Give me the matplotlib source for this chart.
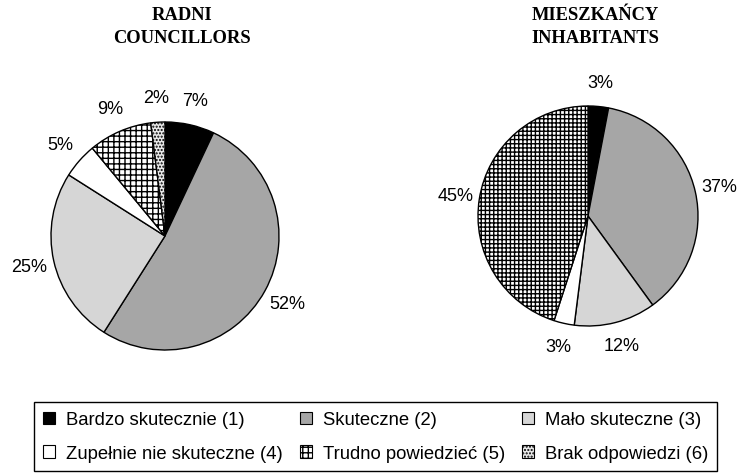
import matplotlib
matplotlib.use("Agg")
import matplotlib.pyplot as plt
from matplotlib.patches import Patch

plt.rcParams['font.family'] = ['Liberation Sans', 'DejaVu Sans']
plt.rcParams['hatch.linewidth'] = 1.0

categories = ["Bardzo skutecznie (1)", "Skuteczne (2)", "Mało skuteczne (3)",
              "Zupełnie nie skuteczne (4)", "Trudno powiedzieć (5)",
              "Brak odpowiedzi (6)"]
radni = [7, 52, 25, 5, 9, 2]
mieszkancy = [3, 37, 12, 3, 45, 0]
titles = ["RADNI\nCOUNCILLORS", "MIESZKAŃCY\nINHABITANTS"]

colors = ["black", "#a6a6a6", "#d6d6d6", "white", "white", "#e8e8e8"]

W, H = 745, 477
fig = plt.figure(figsize=(W / 100, H / 100), dpi=100)


def draw_pie(values, cx, cy, r, grid_hatch, title, title_x):
    span = 2.8 * r
    ax = fig.add_axes([(cx - span / 2) / W, (H - cy - span / 2) / H, span / W, span / H])
    vals = [v for v in values if v > 0]
    cols = [c for v, c in zip(values, colors) if v > 0]
    hatches = [h for v, h in zip(values, [None, None, None, None, grid_hatch, '.....']) if v > 0]
    wedges, texts = ax.pie(vals, colors=cols, startangle=90, counterclock=False,
                           labels=[f"{v}%" for v in vals], labeldistance=1.22,
                           wedgeprops=dict(edgecolor="black", linewidth=1.0),
                           textprops=dict(fontsize=13))
    for t in texts:
        t.set_ha("center")
        t.set_va("center")
    for w, h in zip(wedges, hatches):
        if h:
            w.set_hatch(h)
    ax.set_xlim(-1.4, 1.4)
    ax.set_ylim(-1.4, 1.4)
    ax.set_aspect("equal")
    ax.axis("off")
    fig.text(title_x / W, 1 - 7 / H, title, ha="center", va="top",
             family="Liberation Serif", fontweight="bold", fontsize=13.3,
             linespacing=1.45)


draw_pie(radni, 165, 237, 114, '+++', titles[0], 182)
draw_pie(mieszkancy, 588, 217, 110, '++++', titles[1], 595)

hatch_leg = [None, None, None, None, '+++', '.....']
handles = [Patch(facecolor=c, edgecolor="black", hatch=h, linewidth=0.8)
           for c, h in zip(colors, hatch_leg)]
order = [0, 3, 1, 4, 2, 5]
leg = fig.legend([handles[i] for i in order], [categories[i] for i in order],
                 loc="upper left", ncol=3,
                 bbox_to_anchor=(34 / W, 1 - 403 / H),
                 fontsize=13.3, handlelength=0.65, handleheight=0.65,
                 handletextpad=0.6, labelspacing=0.9, borderaxespad=0,
                 columnspacing=0.9, borderpad=0.5,
                 fancybox=False, edgecolor="black", framealpha=1)
leg.get_frame().set_linewidth(1.0)

fig.savefig("out.png", dpi=100)
